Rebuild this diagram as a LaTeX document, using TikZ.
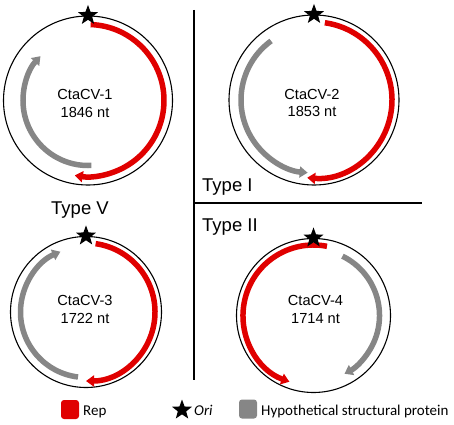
\documentclass[tikz,border=0pt]{standalone}
\usepackage{fontspec}
\setmainfont{Liberation Sans}
\newfontfamily\legendfont{Carlito}
\usetikzlibrary{positioning,arrows.meta,shapes.geometric}
\definecolor{repred}{RGB}{224,0,0}
\definecolor{capgrey}{RGB}{134,134,134}
\tikzset{
  genome/.style={draw, circle, line width=1.1pt, inner sep=0pt},
  ori/.style={star, star points=5, star point ratio=2.4, fill=black, minimum size=21pt, inner sep=0pt},
  orfarrow/.style={line width=5.5pt, -{Triangle[length=8pt,width=11pt]}},
  reparrow/.style={orfarrow, draw=repred},
  caparrow/.style={orfarrow, draw=capgrey},
  gname/.style={font=\fontsize{14.6}{17.5}\selectfont, align=center, inner sep=0pt},
  typelabel/.style={font=\fontsize{18.5}{22}\selectfont, anchor=base west, inner sep=0pt},
  legendbox/.style={rounded corners=3pt, minimum width=18pt, minimum height=19pt, inner sep=0pt},
  legendtext/.style={font=\legendfont\fontsize{15}{18}\selectfont, anchor=base west, inner sep=0pt}
}
\begin{document}
\begin{tikzpicture}[x=1pt, y=1pt]
  \useasboundingbox (0,0) rectangle (454,424);

  % genomes
  \node[genome, minimum size=169pt] (g1) at (88,323.5) {};
  \node[genome, minimum size=170pt] (g2) at (314,324) {};
  \node[genome, minimum size=151pt] (g3) at (86,112) {};
  \node[genome, minimum size=154pt] (g4) at (313.5,108.5) {};

  \node[gname] (t1) at (85,320.5) {CtaCV-1\\1846 nt};
  \node[gname] (t2) at (312,321) {CtaCV-2\\1853 nt};
  \node[gname] (t3) at (85,114.5) {CtaCV-3\\1722 nt};
  \node[gname] (t4) at (315.5,114.5) {CtaCV-4\\1714 nt};

  % ORFs
  \draw[reparrow] (g1.center) ++(88:76) arc[start angle=88, end angle=-100, radius=76];
  \draw[caparrow] (g1.center) ++(273:65) arc[start angle=273, end angle=137, radius=65];
  \draw[reparrow] (g2.center) ++(82:78) arc[start angle=82, end angle=-95, radius=78];
  \draw[caparrow] (g2.center) ++(126:73) arc[start angle=126, end angle=265, radius=73];
  \draw[reparrow] (g3.center) ++(82:69) arc[start angle=82, end angle=-90, radius=69];
  \draw[caparrow] (g3.center) ++(263:65.5) arc[start angle=263, end angle=113, radius=65.5];
  \draw[reparrow] (g4.center) ++(79:70.5) arc[start angle=79, end angle=250, radius=70.5];
  \draw[caparrow] (g4.center) ++(64:66) arc[start angle=64, end angle=-62, radius=66];

  % origins
  \node[ori] (o1) at (g1.north) {};
  \node[ori] (o2) at (g2.north) {};
  \node[ori] (o3) at (g3.north) {};
  \node[ori] (o4) at (g4.north) {};

  % type dividers
  \coordinate (vtop) at (194,414);
  \coordinate (vbot) at (194,44);
  \coordinate (hleft) at (194,221.3);
  \coordinate (hright) at (422,221.3);
  \draw[line width=1.8pt] (vtop) -- (vbot);
  \draw[line width=1.8pt] (hleft) -- (hright);
  \node[typelabel] (typeI) at (202,233) {Type I};
  \node[typelabel] (typeII) at (202,193) {Type II};
  \node[typelabel] (typeV) at (51,210) {Type V};

  % legend
  \node[legendbox, fill=repred] (krep) at (70,14.5) {};
  \node[legendtext] (lrep) at (83,9) {Rep};
  \node[ori] (kori) at (182,14) {};
  \node[legendtext] (lori) at (194,9) {\itshape Ori};
  \node[legendbox, fill=capgrey] (kcap) at (248,15) {};
  \node[legendtext] (lcap) at (261,9) {Hypothetical structural protein};
\end{tikzpicture}
\end{document}
